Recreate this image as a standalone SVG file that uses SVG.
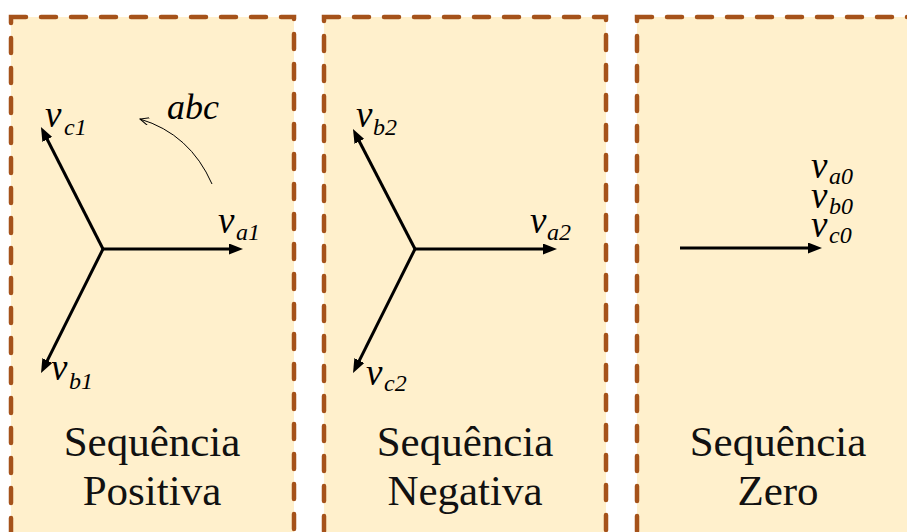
<svg xmlns="http://www.w3.org/2000/svg" width="907" height="532" viewBox="0 0 907 532">
<defs>
<style>
.panel{fill:#FFF0CC;stroke:#A5521A;stroke-width:4.5;stroke-dasharray:15 15;stroke-linecap:round}
.vec{stroke:#000;stroke-width:3;fill:none}
.v{font-family:"Liberation Serif",serif;font-style:italic;font-size:37px;fill:#000}
.s{font-family:"Liberation Serif",serif;font-style:italic;font-size:24px;fill:#000}
.t{font-family:"Liberation Serif",serif;font-size:43px;fill:#111;text-anchor:middle}
</style>
<marker id="ah" viewBox="0 0 14 11" refX="2" refY="5.5" markerWidth="14" markerHeight="11" markerUnits="userSpaceOnUse" orient="auto">
<path d="M0,0 L14,5.5 L0,11 z" fill="#000"/>
</marker>
<marker id="oh" viewBox="0 0 10 8" refX="9" refY="4" markerWidth="10" markerHeight="8" markerUnits="userSpaceOnUse" orient="auto">
<path d="M0,0 L9,4 L0,8" fill="none" stroke="#000" stroke-width="1"/>
</marker>
</defs>
<rect x="0" y="0" width="907" height="532" fill="#fff"/>
<g id="positiva">
<rect class="panel" x="11" y="17" width="283" height="560"/>
<text class="v" x="45" y="127">v<tspan class="s" x="64" y="135">c1</tspan></text>
<text class="v" x="167" y="119" style="font-size:36px">abc</text>
<text class="v" x="218" y="233">v<tspan class="s" x="236" y="240">a1</tspan></text>
<text class="v" x="51" y="380">v<tspan class="s" x="69" y="389">b1</tspan></text>
<text class="t" x="152" y="456">Sequência</text>
<text class="t" x="152" y="505">Positiva</text>
</g>
<g id="negativa">
<rect class="panel" x="324" y="17" width="282" height="560"/>
<text class="v" x="356" y="127">v<tspan class="s" x="373" y="135">b2</tspan></text>
<text class="v" x="530" y="233">v<tspan class="s" x="547" y="240">a2</tspan></text>
<text class="v" x="366" y="385">v<tspan class="s" x="384" y="391">c2</tspan></text>
<text class="t" x="465" y="456">Sequência</text>
<text class="t" x="465" y="505">Negativa</text>
</g>
<g id="zero">
<rect class="panel" x="637" y="17" width="282" height="560"/>
<text class="v" x="811" y="178">v<tspan class="s" x="829" y="184">a0</tspan><tspan x="811" y="208">v</tspan><tspan class="s" x="829" y="214">b0</tspan><tspan x="811" y="237">v</tspan><tspan class="s" x="829" y="243">c0</tspan></text>
<text class="t" x="778" y="456">Sequência</text>
<text class="t" x="778" y="505">Zero</text>
</g>
<g id="connectors">
<line class="vec" x1="103" y1="249" x2="231" y2="249" marker-end="url(#ah)"/>
<line class="vec" x1="103" y1="249" x2="46.4" y2="137.7" marker-end="url(#ah)"/>
<line class="vec" x1="103" y1="249" x2="46.4" y2="362.3" marker-end="url(#ah)"/>
<path d="M212,184 Q190,134 140,119" fill="none" stroke="#000" stroke-width="1" marker-end="url(#oh)"/>
<line class="vec" x1="415" y1="249" x2="545" y2="249" marker-end="url(#ah)"/>
<line class="vec" x1="415" y1="249" x2="358.5" y2="139.7" marker-end="url(#ah)"/>
<line class="vec" x1="415" y1="249" x2="358.4" y2="362.3" marker-end="url(#ah)"/>
<line class="vec" x1="680" y1="248" x2="810" y2="248" marker-end="url(#ah)"/>
</g>
</svg>
